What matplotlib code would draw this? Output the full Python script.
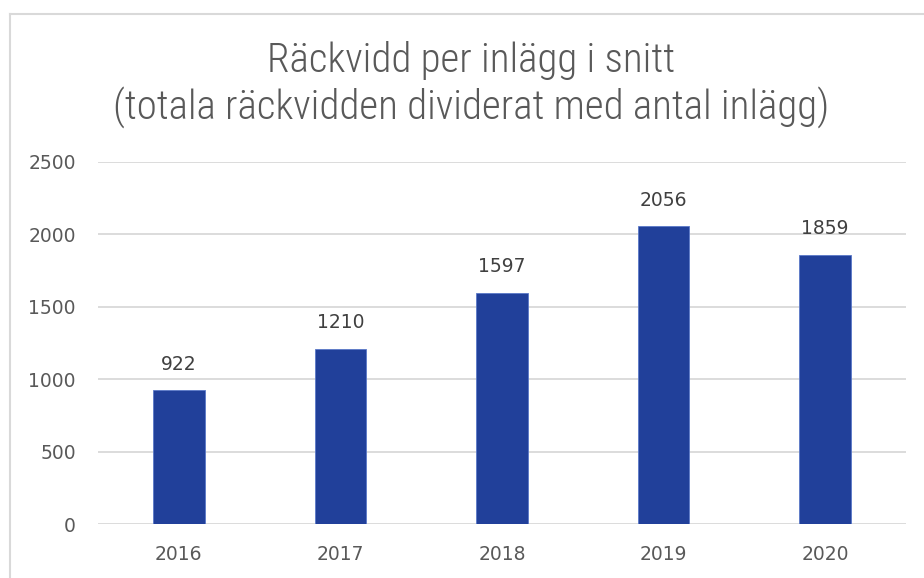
import matplotlib
matplotlib.use("Agg")
import matplotlib.pyplot as plt
from matplotlib.lines import Line2D

years = ["2016", "2017", "2018", "2019", "2020"]
reach = [922, 1210, 1597, 2056, 1859]
yticks = [0, 500, 1000, 1500, 2000, 2500]

W, H = 924, 578
fig = plt.figure(figsize=(W / 100, H / 100), dpi=100)

# chart frame (left and top edges visible, rest cropped)
fig.add_artist(Line2D([10 / W, 10 / W], [0, 1 - 14 / H], color="#d9d9d9", lw=1.5))
fig.add_artist(Line2D([10 / W, 1], [1 - 14 / H, 1 - 14 / H], color="#d9d9d9", lw=1.5))

ax = fig.add_axes([98 / W, 54 / H, 808 / W, 362 / H])
x = range(len(years))
ax.bar(x, reach, width=0.32, color="#21409a", edgecolor="#5a78c8", linewidth=0.6, zorder=3)

ax.set_xlim(-0.5, len(years) - 0.5)
ax.set_ylim(0, 2500)
ax.set_yticks(yticks)
ax.set_yticklabels([str(v) for v in yticks])
ax.set_xticks(list(x))
ax.set_xticklabels(years)
ax.grid(axis="y", color="#d9d9d9", lw=1.3, zorder=0)
for s in ax.spines.values():
    s.set_visible(False)
ax.tick_params(axis="both", length=0, labelsize=13.5, labelcolor="#595959")
ax.tick_params(axis="y", pad=16)
ax.tick_params(axis="x", pad=15)

for xi, v in zip(x, reach):
    ax.annotate(str(v), (xi, v), xytext=(0, 12), textcoords="offset points",
                ha="center", va="bottom", fontsize=13.5, color="#404040")

title_font = ["Roboto Condensed", "Liberation Sans Narrow", "DejaVu Sans"]
fig.text(471 / W, 1 - 61 / H, "Räckvidd per inlägg i snitt", ha="center", va="center",
         fontsize=29.5, color="#595959", fontweight=300, family=title_font)
fig.text(471 / W, 1 - 107 / H, "(totala räckvidden dividerat med antal inlägg)", ha="center",
         va="center", fontsize=29.5, color="#595959", fontweight=300, family=title_font)

fig.savefig("out.png", dpi=100)
